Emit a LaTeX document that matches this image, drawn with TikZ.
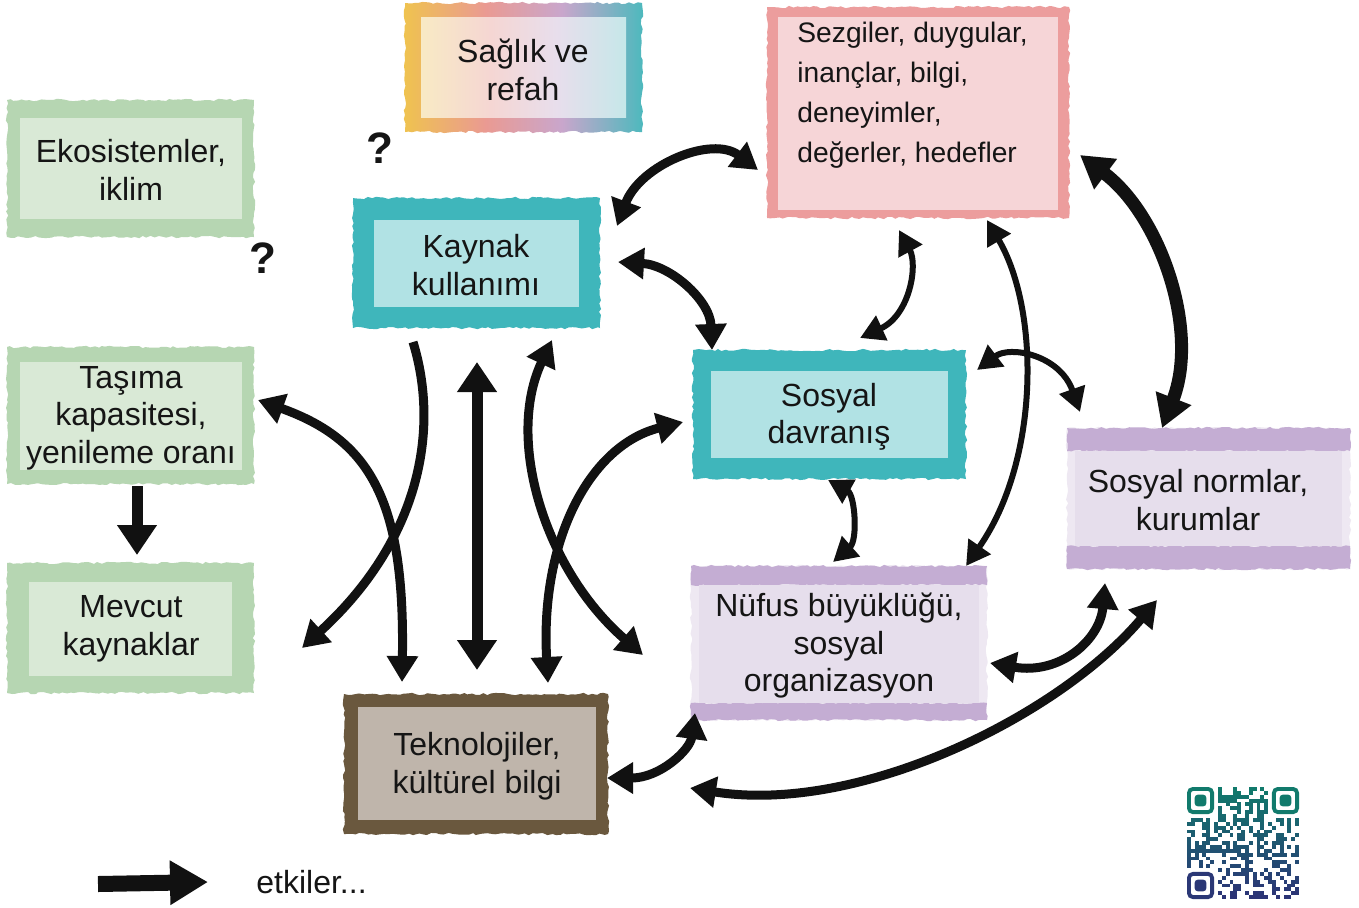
\documentclass[tikz,border=0pt]{standalone}
\usepackage{fontspec}
\setmainfont{Liberation Sans}
\usetikzlibrary{arrows.meta,decorations.pathmorphing,calc}
\definecolor{ink}{HTML}{111111}
\definecolor{txt}{HTML}{151515}
\definecolor{ecoB}{HTML}{B6D6B2}
\definecolor{ecoI}{HTML}{D9E9D6}
\definecolor{sezB}{HTML}{EC9D9D}
\definecolor{sezI}{HTML}{F6D5D7}
\definecolor{tealB}{HTML}{3FB6BB}
\definecolor{tealI}{HTML}{B1E2E4}
\definecolor{purB}{HTML}{C4ADD3}
\definecolor{purI}{HTML}{E6DEEC}
\definecolor{purS}{HTML}{EEE8F2}
\definecolor{brB}{HTML}{6A583E}
\definecolor{brI}{HTML}{BFB5AB}
\definecolor{sgY}{HTML}{EFC34F}
\definecolor{sgS}{HTML}{EA9A92}
\definecolor{sgL}{HTML}{C9A6CC}
\definecolor{sgT}{HTML}{4DB9BD}
\definecolor{siY}{HTML}{F8EAC4}
\definecolor{siS}{HTML}{F5D6D3}
\definecolor{siL}{HTML}{E8DEEC}
\definecolor{siT}{HTML}{C6E7E9}
\definecolor{qrT}{HTML}{117A6C}
\definecolor{qrN}{HTML}{2C3476}
\pgfdeclarehorizontalshading{sagB}{100bp}{color(0bp)=(sgY); color(25bp)=(sgY); color(42bp)=(sgS); color(58bp)=(sgL); color(75bp)=(sgT); color(100bp)=(sgT)}
\pgfdeclarehorizontalshading{sagI}{100bp}{color(0bp)=(siY); color(25bp)=(siY); color(42bp)=(siS); color(58bp)=(siL); color(75bp)=(siT); color(100bp)=(siT)}
\tikzset{
  lbl/.style={font=\fontsize{16}{18.75}\selectfont, align=center, text=txt, inner sep=0pt},
  qmark/.style={font=\fontsize{22}{26}\selectfont\bfseries, text=txt, inner sep=0pt},
  rough/.style={decorate, decoration={random steps, segment length=2pt, amplitude=0.6pt}},
  arrM/.style={draw=ink, line width=4.5pt, >={Triangle[width=15pt,length=13pt]}},
  arrS/.style={draw=ink, line width=3pt, >={Triangle[width=13pt,length=12pt]}},
  arrL/.style={draw=ink, line width=6.5pt, >={Triangle[width=18pt,length=16pt]}},
  arrV/.style={draw=ink, line width=5.5pt, >={Triangle[width=19pt,length=15pt]}},
}
\begin{document}
\begin{tikzpicture}[x=0.5pt,y=-0.5pt]
\useasboundingbox (0,0) rectangle (1359,907);
\fill[white] (0,0) rectangle (1359,907);

% ---- boxes ----
% Ekosistemler
\fill[ecoB, rough] (7,100) rectangle (254,237);
\fill[ecoI] (20,118) rectangle (242,219);
\node[lbl] (eko) at (131,170) {Ekosistemler,\\iklim};
% Saglik
\shade[shading=sagB, rough] (405,3) rectangle (642,132);
\shade[shading=sagI] (421,17) rectangle (626,117);
\node[lbl] (saglik) at (523,70) {Sağlık ve\\refah};
% Sezgiler
\fill[sezB, rough] (767,7) rectangle (1069,218);
\fill[sezI] (778,17) rectangle (1058,210);
\node[lbl, align=left, anchor=west, font=\fontsize{14.1}{20}\selectfont] (sezgi) at (797,95) {Sezgiler, duygular,\\inançlar, bilgi,\\deneyimler,\\değerler, hedefler};
% Kaynak kullanimi
\fill[tealB, rough] (353,198) rectangle (600,328);
\fill[tealI] (374,220) rectangle (579,307);
\node[lbl] (kaynak) at (476,265) {Kaynak\\kullanımı};
% Tasima
\fill[ecoB, rough] (7,347) rectangle (254,484);
\fill[ecoI] (20,362) rectangle (242,470);
\node[lbl] (tasima) at (131,418) {Taşıma\\kapasitesi,\\yenileme oranı};
% Mevcut
\fill[ecoB, rough] (7,563) rectangle (254,693);
\fill[ecoI] (29,582) rectangle (232,676);
\node[lbl] (mevcut) at (131,629) {Mevcut\\kaynaklar};
% Sosyal davranis
\fill[tealB, rough] (693,350) rectangle (966,479);
\fill[tealI] (711,371) rectangle (948,458);
\node[lbl] (davranis) at (829,417) {Sosyal\\davranış};
% Nufus
\fill[purS, rough] (691,566) rectangle (987,720);
\fill[purB, rough] (691,566) rectangle (987,585);
\fill[purB, rough] (691,703) rectangle (987,720);
\fill[purI] (699,585) rectangle (979,703);
\node[lbl] (nufus) at (839,646) {Nüfus büyüklüğü,\\sosyal\\organizasyon};
% Sosyal normlar
\fill[purS, rough] (1067,428) rectangle (1350,569);
\fill[purB, rough] (1067,428) rectangle (1350,451);
\fill[purB, rough] (1067,546) rectangle (1350,569);
\fill[purI] (1075,451) rectangle (1342,546);
\node[lbl] (normlar) at (1198,500) {Sosyal normlar,\\kurumlar};
% Teknolojiler
\fill[brB, rough] (344,694) rectangle (608,834);
\fill[brI] (358,707) rectangle (596,820);
\node[lbl] (tekno) at (477,766) {Teknolojiler,\\kültürel bilgi};

% question marks
\node[qmark] (q1) at (380,148) {?};
\node[qmark] (q2) at (263,258) {?};

% ---- connector end points ----
\coordinate (kA) at (617,226);  \coordinate (sA) at (758,170);
\coordinate (kB) at (618,262);  \coordinate (dB) at (712,350);
\coordinate (sC) at (899,230);  \coordinate (dC) at (860,338);
\coordinate (sD) at (1080,155); \coordinate (nD) at (1162,428);
\coordinate (sE) at (987,220);  \coordinate (uE) at (966,566);
\coordinate (dF) at (977,370);  \coordinate (nF) at (1080,412);
\coordinate (dG) at (828,480);  \coordinate (uG) at (833,562);
\coordinate (uH) at (990,663);  \coordinate (nH) at (1105,583);
\coordinate (tI) at (690,788);  \coordinate (nI) at (1157,600);
\coordinate (tJ) at (607,778);  \coordinate (uJ) at (695,713);
\coordinate (ka) at (413,342);  \coordinate (ma) at (302,648);
\coordinate (tb) at (258,400);  \coordinate (eb) at (402,682);
\coordinate (kc) at (552,340);  \coordinate (uc) at (643,655);
\coordinate (dd) at (683,422);  \coordinate (ed) at (548,683);
\coordinate (kv) at (477,362);  \coordinate (ev) at (477,670);
\coordinate (t1) at (137,486);  \coordinate (m1) at (137,555);

% ---- connectors ----
\draw[arrM,<->] (kA) .. controls (640,165) and (712,135) .. (sA);
\draw[arrM,<->] (kB) .. controls (670,265) and (710,300) .. (dB);
\draw[arrS,<->] (sC) .. controls (918,265) and (910,315) .. (dC);
\draw[arrL,<->] (sD) .. controls (1160,215) and (1200,330) .. (nD);
\draw[arrS,<->] (sE) .. controls (1040,310) and (1040,460) .. (uE);
\draw[arrS,<->] (dF) .. controls (1010,345) and (1060,355) .. (nF);
\draw[arrS,<->] (dG) .. controls (855,495) and (858,540) .. (uG);
\draw[arrM,<->] (uH) .. controls (1060,675) and (1100,640) .. (nH);
\draw[arrM,<->] (tI) .. controls (860,815) and (1060,715) .. (nI);
\draw[arrM,<->] (tJ) .. controls (660,778) and (690,750) .. (uJ);
\draw[arrM,->] (ka) .. controls (440,430) and (420,540) .. (ma);
\draw[arrM,<->] (tb) .. controls (370,440) and (405,500) .. (eb);
\draw[arrM,<->] (kc) .. controls (505,440) and (545,570) .. (uc);
\draw[arrM,<->] (dd) .. controls (590,445) and (540,540) .. (ed);
\draw[arrV,<->] (kv) -- (ev);
\draw[arrV,->] (t1) -- (m1);

% ---- legend ----
\coordinate (lg1) at (98,884);
\node[lbl, anchor=west] (etk) at (256,882) {etkiler...};
\draw[draw=ink, line width=8pt, -{Triangle[width=21pt,length=19pt]}] (lg1) -- (etk.west -| 208,884);

% ---- QR code ----
\pgfmathsetseed{7}
\foreach \i in {0,...,28}{
  \foreach \j in {0,...,28}{
    \pgfmathrandominteger{\r}{0}{99}
    \pgfmathtruncatemacro{\inf}{(((\i<8)&&(\j<8))||((\i>20)&&(\j<8))||((\i<8)&&(\j>20)))?1:0}
    \ifnum\inf=0
      \ifnum\r<48
        \pgfmathtruncatemacro{\pc}{100-\j*100/28}
        \fill[qrT!\pc!qrN] ({1187+\i*3.862},{787+\j*3.862}) rectangle ++(3.9,3.9);
      \fi
    \fi
  }
}
\foreach \cx/\cy/\pc in {1187/787/100, 1271.96/787/100, 1187/871.96/5}{
  \draw[qrT!\pc!qrN, line width=1.93pt, rounded corners=2pt] ({\cx+1.93},{\cy+1.93}) rectangle ({\cx+25.1},{\cy+25.1});
  \fill[qrT!\pc!qrN, rounded corners=1.5pt] ({\cx+7.7},{\cy+7.7}) rectangle ({\cx+19.3},{\cy+19.3});
}
\end{tikzpicture}
\end{document}
